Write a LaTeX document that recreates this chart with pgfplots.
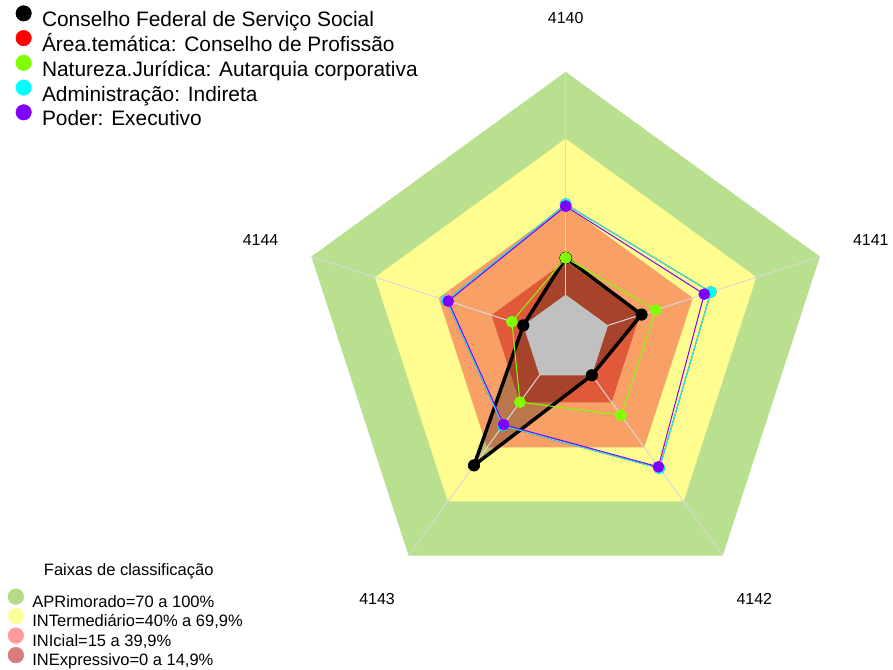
\documentclass[border=0pt]{standalone}
\usepackage{fontspec}
\setmainfont{Liberation Sans}
\usepackage{pgfplots}
\usepackage{pgfplotstable}
\pgfplotsset{compat=1.18}

% faixas do radar
\definecolor{faixaApr}{HTML}{B9E08E}
\definecolor{faixaInt}{HTML}{FFFD8F}
\definecolor{faixaIni}{HTML}{F9A066}
\definecolor{faixaInex}{HTML}{E05A3A}
\definecolor{centro}{HTML}{C0C0C0}
\definecolor{eixo}{HTML}{D8D8D8}
% legenda das faixas
\definecolor{legApr}{HTML}{B4DC88}
\definecolor{legInt}{HTML}{FFFF99}
\definecolor{legIni}{HTML}{FF9B9B}
\definecolor{legInex}{HTML}{D97C7C}
% series
\definecolor{serRed}{HTML}{FF0000}
\definecolor{serGreen}{HTML}{7FFF00}
\definecolor{serCyan}{HTML}{00FFFF}
\definecolor{serPurple}{HTML}{8000FF}

% indicadores (%), ultima linha repete a primeira para fechar o poligono
\pgfplotstableread{
ind   ang   cfess  area  natur  admin  poder
4140   90   16.5   40.6  16.5   40.6   39.7
4141   18   15.8   48.5  22.5   48.5   45.4
4142  -54    0.0   51.6  22.2   51.6   50.8
4143 -126   50.0   28.0  14.9   28.0   27.4
4144  162    0.0   36.1   5.4   36.1   35.4
4140   90   16.5   40.6  16.5   40.6   39.7
}\dados

% radar: valor 0 no raio 1/6, valor 100 no raio 1
\pgfplotsset{
  table/radar/.style={
    x expr={(1/6+\thisrow{#1}/120)*cos(\thisrow{ang})},
    y expr={(1/6+\thisrow{#1}/120)*sin(\thisrow{ang})}},
  table/faixa/.style={
    x expr={(1/6+#1/120)*cos(\thisrow{ang})},
    y expr={(1/6+#1/120)*sin(\thisrow{ang})}},
  radarbase/.style={
    hide axis, clip=false,
    x=201pt, y=201pt,
    xmin=-2.1157, xmax=1.2164, ymin=-1.2239, ymax=1.2687},
}

\begin{document}
\begin{tikzpicture}
\begin{axis}[
  radarbase,
  legend cell align=left,
  legend image code/.code={\draw[#1] plot coordinates {(0pt,5.6pt)};},
  legend style={draw=none, fill=none, inner sep=0pt, outer sep=0pt,
    font=\fontsize{15.7}{18}\selectfont,
    column sep=8pt, row sep=-1.3pt,
    nodes={inner sep=0pt, text height=13pt, text depth=4pt},
    at={(axis description cs:0.0179,0.9915)}, anchor=north west},
]
\path (rel axis cs:0,0) rectangle (rel axis cs:1,1);

% faixas de classificacao
\addplot[forget plot, draw=none, fill=faixaApr] table[faixa=100] {\dados};
\addplot[forget plot, draw=none, fill=faixaInt] table[faixa=70] {\dados};
\addplot[forget plot, draw=none, fill=faixaIni] table[faixa=40] {\dados};
\addplot[forget plot, draw=none, fill=faixaInex] table[faixa=15] {\dados};

% preenchimento da serie principal
\addplot[forget plot, draw=none, fill=black, fill opacity=0.25]
  table[radar=cfess] {\dados};

% eixos
\addplot[forget plot, draw=eixo, line width=0.75pt,
  quiver={u={cos(\thisrow{ang})}, v={sin(\thisrow{ang})}}]
  table[x expr=0, y expr=0, skip coords between index={5}{6}] {\dados};

\addplot[forget plot, draw=none, fill=centro] table[faixa=0] {\dados};

% series
\addplot[forget plot, black, line width=2.6pt, line join=round,
  mark=*, mark size=4.3pt, mark options={line width=0.5pt}]
  table[radar=cfess] {\dados};
\addplot[forget plot, serRed, line width=0.75pt, mark=*, mark size=4pt]
  table[radar=area] {\dados};
\addplot[forget plot, serGreen, line width=0.75pt, mark=*, mark size=4pt]
  table[radar=natur] {\dados};
\addplot[forget plot, serCyan, line width=0.75pt, mark=*, mark size=4pt]
  table[radar=admin] {\dados};
\addplot[forget plot, serPurple, line width=0.75pt, mark=*, mark size=4pt]
  table[radar=poder] {\dados};

% rotulos dos indicadores
\addplot[forget plot, draw=none, mark=none, nodes near coords,
  point meta=explicit symbolic,
  every node near coord/.append style={anchor=center,
    font=\fontsize{12}{14}\selectfont, text=black}]
  table[faixa=124, meta=ind, skip coords between index={5}{6}] {\dados};

\addlegendimage{only marks, mark=*, mark size=5.8pt, black}
\addlegendentry{Conselho Federal de Serviço Social}
\addlegendimage{only marks, mark=*, mark size=5.8pt, serRed}
\addlegendentry{Área.temática: Conselho de Profissão}
\addlegendimage{only marks, mark=*, mark size=5.8pt, serGreen}
\addlegendentry{Natureza.Jurídica: Autarquia corporativa}
\addlegendimage{only marks, mark=*, mark size=5.8pt, serCyan}
\addlegendentry{Administração: Indireta}
\addlegendimage{only marks, mark=*, mark size=5.8pt, serPurple}
\addlegendentry{Poder: Executivo}
\end{axis}

\begin{axis}[
  radarbase,
  legend cell align=left,
  legend image code/.code={\draw[#1] plot coordinates {(0pt,4.5pt)};},
  legend style={draw=none, fill=none, inner sep=0pt, outer sep=0pt,
    font=\fontsize{12.4}{14}\selectfont,
    column sep=6.5pt, row sep=-2.25pt,
    nodes={inner sep=0pt, text height=10pt, text depth=3pt},
    at={(axis description cs:0.009,0.1165)}, anchor=north west},
]
\addplot[forget plot, draw=none] coordinates {(0,0)};
\node[font=\fontsize{12.4}{14}\selectfont] at (axis description cs:0.1445,0.1422) {Faixas de classificação};
\addlegendimage{only marks, mark=*, mark size=5.9pt, legApr}
\addlegendentry{APRimorado=70 a 100\%}
\addlegendimage{only marks, mark=*, mark size=5.9pt, legInt}
\addlegendentry{INTermediário=40\% a 69,9\%}
\addlegendimage{only marks, mark=*, mark size=5.9pt, legIni}
\addlegendentry{INIcial=15 a 39,9\%}
\addlegendimage{only marks, mark=*, mark size=5.9pt, legInex}
\addlegendentry{INExpressivo=0 a 14,9\%}
\end{axis}
\end{tikzpicture}
\end{document}
